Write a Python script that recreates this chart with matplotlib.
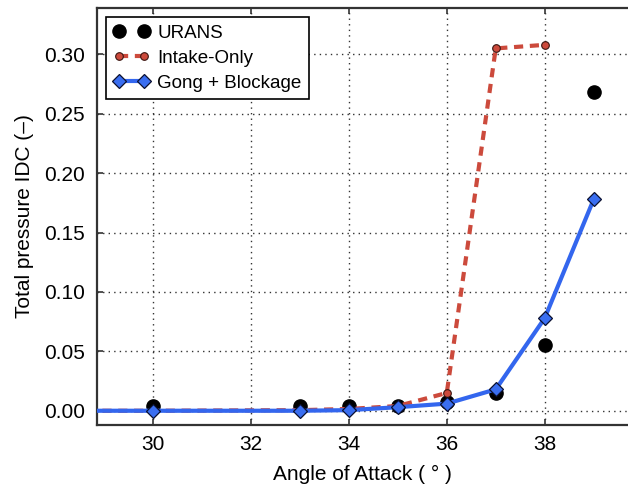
import numpy as np
import matplotlib.pyplot as plt

plt.rcParams['font.family'] = ['Liberation Sans', 'DejaVu Sans']

# angle of attack (deg) and total pressure IDC
aoa_urans = [30, 33, 34, 35, 36, 37, 38, 39]
idc_urans = [0.004, 0.004, 0.004, 0.004, 0.007, 0.015, 0.055, 0.268]

aoa_intake = [28, 30, 33, 34, 35, 36, 37, 38]
idc_intake = [0.0, 0.0, 0.0005, 0.0015, 0.004, 0.015, 0.305, 0.308]

aoa_gong = [28, 30, 33, 34, 35, 36, 37, 38, 39]
idc_gong = [0.0, 0.0, 0.0, 0.0005, 0.003, 0.006, 0.018, 0.078, 0.178]

x_ticks = [30, 32, 34, 36, 38]
y_ticks = [0.00, 0.05, 0.10, 0.15, 0.20, 0.25, 0.30]

fig = plt.figure(figsize=(6.28, 4.86), dpi=100)
ax = fig.add_axes([0.1545, 0.1255, 0.8455, 0.858])

ax.plot(aoa_urans, idc_urans, 'o', color='black', markersize=9.5,
        label='URANS', zorder=3)
ax.plot(aoa_intake, idc_intake, '--o', color='#cc4a3c', lw=3,
        dashes=(2.2, 1.6), markersize=5.5, markeredgecolor='#3a1510',
        markeredgewidth=0.8, label='Intake-Only', zorder=4)
ax.plot(aoa_gong, idc_gong, '-D', color='#3366ee', lw=3, markersize=7.5,
        markerfacecolor='#3a6ef0', markeredgecolor='#0a1030',
        markeredgewidth=0.9, label='Gong + Blockage', zorder=5)

ax.set_xlim(28.86, 39.7)
ax.set_ylim(-0.012, 0.339)
ax.set_xticks(x_ticks)
ax.set_yticks(y_ticks)
ax.set_yticklabels(['%.2f' % v for v in y_ticks])

ax.grid(True, linestyle=(0, (1, 3)), color='#333333', linewidth=1.0)
ax.tick_params(direction='in', length=4, width=1.2, labelsize=15,
               top=True, right=False, colors='#333333', labelcolor='black')
ax.tick_params(axis='x', pad=7)
ax.tick_params(axis='y', pad=8.5)
for side in ['left', 'bottom', 'top']:
    ax.spines[side].set_linewidth(1.6)
    ax.spines[side].set_color('#333333')
ax.spines['right'].set_visible(False)

ax.set_xlabel('Angle of Attack ( ° )', fontsize=15, labelpad=8)
ax.set_ylabel('Total pressure IDC (–)', fontsize=15, labelpad=7)

leg = ax.legend(loc='upper left', numpoints=2, fontsize=13.5, fancybox=False,
                framealpha=1, edgecolor='black', handlelength=1.93,
                borderpad=0.4, labelspacing=0.42, handletextpad=0.4,
                borderaxespad=0.48)
leg.get_frame().set_linewidth(1.2)

fig.savefig('out.png', dpi=100)
